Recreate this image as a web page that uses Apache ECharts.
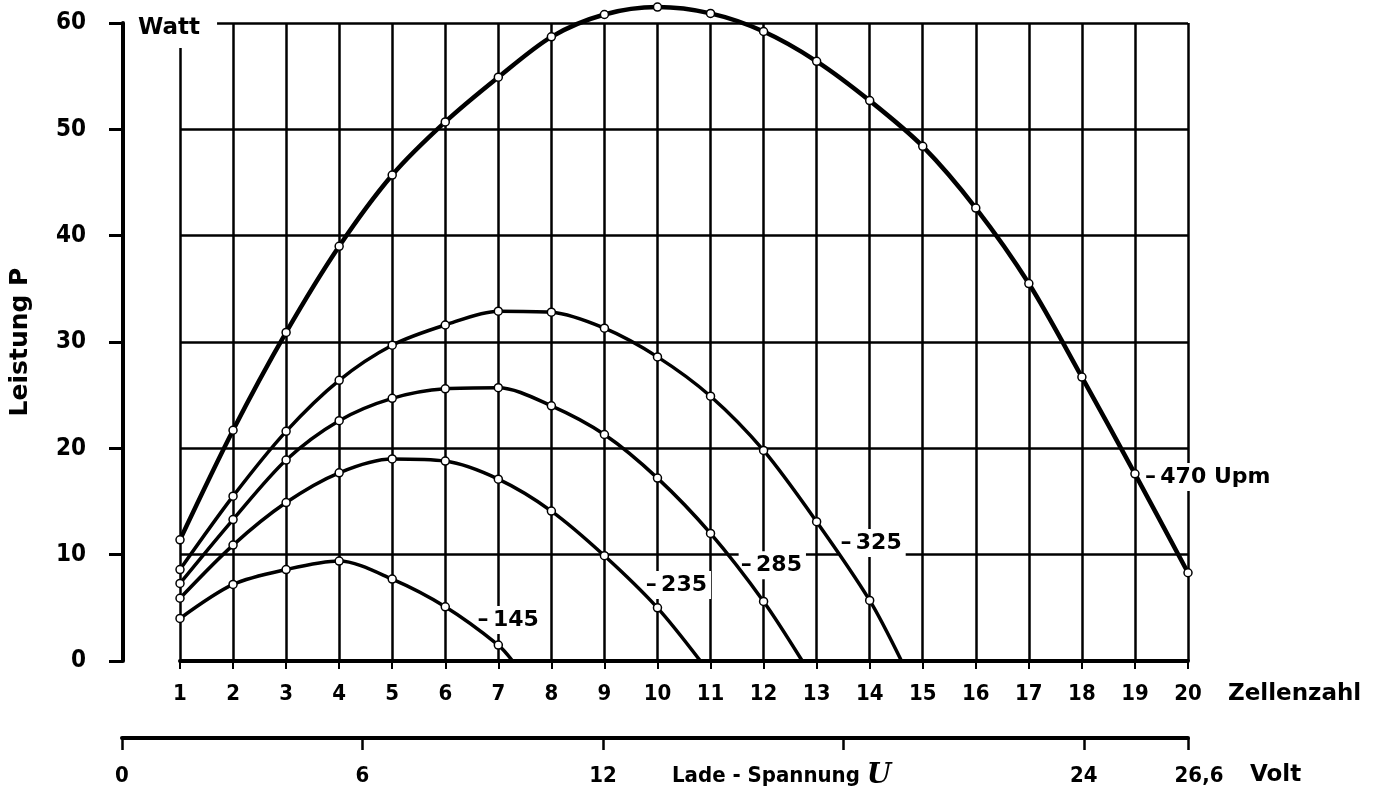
<!DOCTYPE html>
<html>
<head>
<meta charset="utf-8">
<script src="https://cdn.jsdelivr.net/npm/echarts@6/dist/echarts.min.js"></script>
<style>html,body{margin:0;padding:0;background:#fff}#c{width:1383px;height:793px}</style>
</head>
<body>
<div id="c"></div>
<script>
// ---- data ----
const cells = [1,2,3,4,5,6,7,8,9,10,11,12,13,14,15,16,17,18,19,20];
const powerTicks = [0,10,20,30,40,50,60];
const voltTicks = [0,6,12,18,24,26.6];
const p470 = [11.4,21.7,30.9,39.0,45.7,50.7,54.9,58.7,60.8,61.5,60.9,59.2,56.4,52.7,48.4,42.6,35.5,26.7,17.6,8.3];
const p325 = [8.6,15.5,21.6,26.4,29.7,31.6,32.9,32.8,31.3,28.6,24.9,19.8,13.1,5.7];
const p285 = [7.3,13.3,18.9,22.6,24.7,25.6,25.7,24.0,21.3,17.2,12.0,5.6];
const p235 = [5.9,10.9,14.9,17.7,19.0,18.8,17.1,14.1,9.9,5.0];
const p145 = [4.0,7.2,8.6,9.4,7.7,5.1,1.5];
const zeroCross = {p325:14.6, p285:12.73, p235:10.81, p145:7.27};
const curveLabels = ['470 Upm','325','285','235','145'];

const F = "'DejaVu Sans Condensed','DejaVu Sans',sans-serif";
const FW = "'DejaVu Sans',sans-serif";
const BLACK = '#000';

function build(vals, endX){
  const d = vals.map((v,i)=>[cells[i], v]);
  if (endX != null) d.push({value:[endX,0], symbol:'none'});
  return d;
}
function lab(coord, text){
  return {coord: coord, label:{show:true, formatter:'\u2013\u2009'+text}};
}
function series(name, data, width, mp){
  return {
    name: name, type:'line', xAxisIndex:0, yAxisIndex:0,
    data: data, smooth:0.3, showAllSymbol:true, clip:false,
    symbol:'circle', symbolSize:8,
    itemStyle:{color:'#fff', borderColor:BLACK, borderWidth:1.5},
    lineStyle:{color:BLACK, width:width},
    z: 5,
    markPoint:{
      symbol:'circle', symbolSize:0, silent:true,
      label:{show:true, position:'right', distance:0, color:BLACK, fontSize:22,
             fontFamily:FW, fontWeight:'bold', backgroundColor:'#fff', padding:[4,4,2,2]},
      data:[mp]
    }
  };
}

const chart = echarts.init(document.getElementById('c'), null, {renderer:'canvas'});
const txt = {color:BLACK, fontFamily:F, fontWeight:'bold'};
chart.setOption({
  animation:false,
  backgroundColor:'#fff',
  grid:[
    {left:179, right:195, top:23, bottom:132},
    {left:122, right:195, top:700, height:38}
  ],
  xAxis:[
    {gridIndex:0, type:'value', min:cells[0], max:cells[cells.length-1], interval:1,
     axisLine:{show:true, onZero:false, lineStyle:{color:BLACK, width:4}},
     axisTick:{show:true, length:8, lineStyle:{color:BLACK, width:2}},
     axisLabel:Object.assign({margin:22, fontSize:22, showMinLabel:true, showMaxLabel:true}, txt),
     splitLine:{show:true, lineStyle:{color:BLACK, width:2.5}}},
    {gridIndex:1, type:'value', min:voltTicks[0], max:voltTicks[voltTicks.length-1], interval:6,
     axisLine:{show:true, onZero:false, lineStyle:{color:BLACK, width:4}},
     axisTick:{show:true, length:12, lineStyle:{color:BLACK, width:2.5}},
     axisLabel:Object.assign({margin:27, fontSize:22, showMinLabel:true, showMaxLabel:true, hideOverlap:false,
       formatter:function(v){ if (v===18) return ''; if (Math.abs(v-26.6)<1e-6) return '{r|26,6}'; return String(v); },
       rich:{r:Object.assign({fontSize:22, padding:[0,0,0,22]}, txt)}}, txt),
     splitLine:{show:false}}
  ],
  yAxis:[
    {gridIndex:0, type:'value', min:powerTicks[0], max:powerTicks[powerTicks.length-1], interval:10, offset:57,
     axisLine:{show:true, onZero:false, lineStyle:{color:BLACK, width:4}},
     axisTick:{show:true, length:14, lineStyle:{color:BLACK, width:3}},
     axisLabel:Object.assign({margin:37, fontSize:24}, txt),
     splitLine:{show:true, lineStyle:{color:BLACK, width:2.5}},
     name:'Leistung P', nameLocation:'middle', nameGap:90,
     nameTextStyle:{fontSize:25, color:BLACK, fontFamily:FW, fontWeight:'bold'}},
    {gridIndex:1, type:'value', show:false}
  ],
  series:[
    series('470', build(p470), 4.5, lab([19.15,17.3], curveLabels[0])),
    series('325', build(p325, zeroCross.p325), 3.5, lab([13.41,11.1], curveLabels[1])),
    series('285', build(p285, zeroCross.p285), 3.5, lab([11.53,9.0], curveLabels[2])),
    series('235', build(p235, zeroCross.p235), 3.5, lab([9.74,7.15], curveLabels[3])),
    series('145', build(p145, zeroCross.p145), 3.5, lab([6.57,3.86], curveLabels[4]))
  ],
  graphic:[
    {type:'text', z:100, left:128, top:14,
     style:{text:'Watt', fill:BLACK, font:"bold 23px "+FW, backgroundColor:'#fff', padding:[3,17,8,10]}},
    {type:'text', z:100, left:1228, top:683,
     style:{text:'Zellenzahl', fill:BLACK, font:"bold 23px "+FW}},
    {type:'text', z:100, left:672, top:762,
     style:{text:'{a|Lade - Spannung }{u|U}', fill:BLACK, font:"bold 22px "+F,
            rich:{a:{fontSize:22, fontFamily:F, fontWeight:'bold', fill:BLACK, color:BLACK},
                  u:{fontSize:28, fontFamily:"'DejaVu Serif',serif", fontStyle:'italic', fontWeight:'bold', fill:BLACK, color:BLACK}}}},
    {type:'text', z:100, left:1250, top:764,
     style:{text:'Volt', fill:BLACK, font:"bold 23px "+FW}}
  ]
});
</script>
</body>
</html>
